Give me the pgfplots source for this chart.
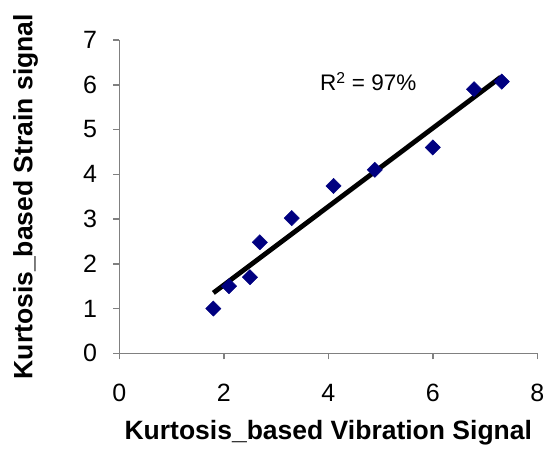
\documentclass[border=0pt]{standalone}
\usepackage{fontspec}
\setmainfont{Liberation Sans}
\usepackage{pgfplots}
\pgfplotsset{compat=1.18}
\definecolor{markblue}{RGB}{0,0,128}
\definecolor{axisgray}{RGB}{128,128,128}
\begin{document}
\begin{tikzpicture}
\useasboundingbox (-119.3bp,-97.7bp) rectangle (426.7bp,353.3bp);
\begin{axis}[
  at={(0,0)}, anchor=south west,
  scale only axis, width=418bp, height=313.3bp,
  xmin=0, xmax=8, ymin=0, ymax=7,
  xtick={0,2,4,6,8}, ytick={0,1,2,3,4,5,6,7},
  axis x line=bottom, axis y line=left,
  axis line style={-, draw=axisgray, line width=1.5bp},
  tick style={draw=axisgray, line width=1.5bp},
  major tick length=6bp,
  tick align=outside,
  clip=false,
  /pgf/number format/assume math mode=true,
  ticklabel style={font=\fontsize{25bp}{30bp}\selectfont, inner sep=0pt},
  xticklabel style={anchor=north, yshift=-25bp},
  yticklabel style={anchor=east, xshift=-16bp},
  xlabel={Kurtosis\_based Vibration Signal},
  ylabel={Kurtosis\_based Strain signal},
  label style={font=\bfseries\fontsize{26.5bp}{32bp}\selectfont, inner sep=0pt},
  xlabel style={at={(axis description cs:0.5,-0.2767)}, anchor=base},
  ylabel style={at={(axis description cs:-0.2077,0.5)}, anchor=base},
]
\addplot[only marks, mark=square*, mark size=5.4bp,
  mark options={rotate=45, fill=markblue, draw=markblue}] table {
x y
1.80 1.00
2.10 1.50
2.50 1.70
2.69 2.48
3.30 3.02
4.10 3.74
4.89 4.10
6.00 4.60
6.79 5.90
7.32 6.07
};
\addplot[black, line width=4.8bp] coordinates {(1.8,1.35) (7.3,6.17)};
\node[anchor=base west, inner sep=0pt, font=\fontsize{22.5bp}{27bp}\selectfont]
  at (axis cs:3.84,5.87) {R\textsuperscript{2} = 97\%};
\end{axis}
\end{tikzpicture}
\end{document}
